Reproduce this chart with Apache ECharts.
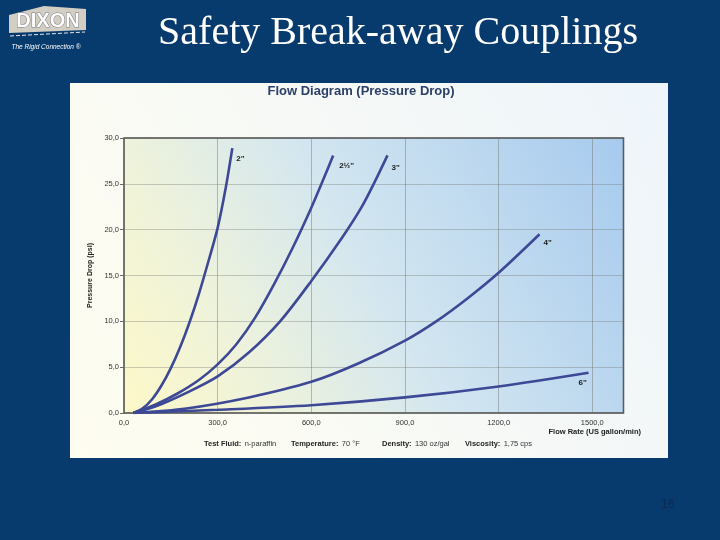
<!DOCTYPE html>
<html>
<head>
<meta charset="utf-8">
<script src="https://cdn.jsdelivr.net/npm/echarts@6/dist/echarts.min.js"></script>
<style>
html,body{margin:0;padding:0;background:#073a6d;}
#c{width:720px;height:540px;}
</style>
</head>
<body>
<div id="c"></div>
<script>
// Flow rate (US gallon/min) vs pressure drop (psi)
var size2 = [[30,0],[60,0.5],[90,1.5],[120,3.0],[150,4.9],[180,7.2],[210,9.9],[240,13.0],[270,16.5],[300,20.2],[325,24.4],[347,28.9]];
var size25 = [[30,0],[100,0.9],[170,2.1],[240,3.6],[300,5.3],[360,7.5],[420,10.4],[480,14.0],[540,18.0],[600,22.4],[640,25.6],[670,28.1]];
var size3 = [[30,0],[100,0.7],[200,2.2],[300,4.0],[400,6.6],[500,10.0],[600,14.4],[700,19.2],[760,22.4],[800,25.0],[844,28.1]];
var size4 = [[30,0],[200,0.5],[400,1.7],[600,3.4],[750,5.4],[900,7.9],[1000,10.0],[1100,12.5],[1200,15.3],[1331,19.5]];
var size6 = [[30,0],[300,0.35],[600,0.85],[900,1.7],[1200,2.9],[1488,4.4]];
var seriesNames = ['2"', '2½"', '3"', '4"', '6"'];
var seriesData = [size2, size25, size3, size4, size6];
var labelOffsets = [[4,11],[6,10],[4,12],[4,9],[-10,10]];
var xTicks = [0,300,600,900,1200,1500];
var yTicks = [0,5,10,15,20,25,30];

var chart = echarts.init(document.getElementById('c'), null, {renderer:'canvas'});
function fmt(v){ return v.toFixed(1).replace('.', ','); }

var series = seriesData.map(function(d, i){
  return {
    name: seriesNames[i],
    type: 'line',
    data: d,
    smooth: 0.3,
    showSymbol: false,
    lineStyle: {color:'#3d4896', width:2.6},
    endLabel: {
      show: true,
      formatter: seriesNames[i],
      color: '#1a1a1a',
      fontSize: 8,
      fontWeight: 'bold',
      fontFamily: 'Liberation Sans',
      offset: labelOffsets[i],
      distance: 0
    },
    animation: false
  };
});

var footBold = {font:'bold 7.5px "Liberation Sans", Arial', fill:'#222'};
var footReg = {font:'7.5px "Liberation Sans", Arial', fill:'#333'};
function foot(x, t){
  return {type:'text', z:10, style:{x:x, y:444, textVerticalAlign:'middle', text:t, rich:{b:footBold, r:footReg}}};
}

chart.setOption({
  animation: false,
  backgroundColor: '#073a6d',
  grid: {
    left: 124, right: 96.5, top: 138, bottom: 127,
    show: true,
    borderColor: '#4a4a4a',
    borderWidth: 1.5,
    backgroundColor: new echarts.graphic.LinearGradient(0, 1, 1, 0, [
      {offset: 0, color: '#fdf8c8'},
      {offset: 0.22, color: '#eff3da'},
      {offset: 0.5, color: '#d3e6f0'},
      {offset: 1, color: '#a6caee'}
    ])
  },
  xAxis: {
    type: 'value', min: 0, max: 1600, interval: 300,
    axisLine: {show: false},
    axisTick: {show: false},
    splitLine: {show: true, lineStyle: {color: 'rgba(110,115,105,0.45)', width: 1}},
    axisLabel: {
      formatter: function(v){ return xTicks.indexOf(v) >= 0 ? fmt(v) : ''; },
      showMaxLabel: false,
      color: '#333', fontSize: 7.5, fontFamily: 'Liberation Sans', margin: 6
    }
  },
  yAxis: {
    type: 'value', min: 0, max: 30, interval: 5,
    name: 'Pressure Drop (psi)',
    nameLocation: 'middle', nameRotate: 90, nameGap: 26,
    nameTextStyle: {color: '#222', fontSize: 7, fontWeight: 'bold', fontFamily: 'Liberation Sans'},
    axisLine: {show: false},
    axisTick: {show: true, length: 4, lineStyle: {color: '#666'}},
    splitLine: {show: true, lineStyle: {color: 'rgba(110,115,105,0.35)', width: 1}},
    axisLabel: {
      formatter: function(v){ return yTicks.indexOf(v) >= 0 ? fmt(v) : ''; },
      color: '#333', fontSize: 7.5, fontFamily: 'Liberation Sans', margin: 5
    }
  },
  graphic: [
    {type:'rect', z:-10, shape:{x:70, y:83, width:598, height:375}, style:{fill: new echarts.graphic.LinearGradient(0,1,1,0,[{offset:0,color:'#fffdf0'},{offset:1,color:'#eef5fb'}])}},
    {type:'text', z:10, style:{x:361, y:91, text:'Flow Diagram (Pressure Drop)', fill:'#2b3f68', font:'bold 13px "Liberation Sans", Arial', textAlign:'center', textVerticalAlign:'middle'}},
    {type:'text', z:10, style:{x:641, y:432, text:'Flow Rate (US gallon/min)', fill:'#222', font:'bold 7.5px "Liberation Sans", Arial', textAlign:'right', textVerticalAlign:'middle'}},
    foot(204, '{b|Test Fluid:} {r|n-paraffin}'),
    foot(291, '{b|Temperature:} {r|70 °F}'),
    foot(382, '{b|Density:} {r|130 oz/gal}'),
    foot(465, '{b|Viscosity:} {r|1,75 cps}'),
    // slide title
    {type:'text', z:10, style:{x:398, y:33, text:'Safety Break-away Couplings', fill:'#ffffff', font:'40px "Liberation Serif", "Times New Roman", serif', textAlign:'center', textVerticalAlign:'middle'}},
    // page number
    {type:'text', z:10, style:{x:668, y:505, text:'16', fill:'#12284c', font:'12px "Liberation Sans", Arial', textAlign:'center', textVerticalAlign:'middle'}},
    // logo
    {type:'polygon', z:5, shape:{points:[[9,15],[44,6],[86,9],[86,30],[9,33]]}, style:{fill:'#d3cec3'}},
    {type:'text', z:6, style:{x:48, y:21, text:'DIXON', fill:'#ffffff', stroke:'#7a7a7a', lineWidth:1, font:'bold 20px "Liberation Sans", Arial', textAlign:'center', textVerticalAlign:'middle'}},
    {type:'polyline', z:6, shape:{points:[[10,36],[85,32]]}, style:{stroke:'#e6e6e6', lineWidth:1, lineDash:[4,2]}},
    {type:'text', z:6, style:{x:46, y:47, text:'The Rigid Connection ®', fill:'#ffffff', font:'italic 6.5px "Liberation Sans", Arial', textAlign:'center', textVerticalAlign:'middle'}}
  ],
  series: series
});
</script>
</body>
</html>
